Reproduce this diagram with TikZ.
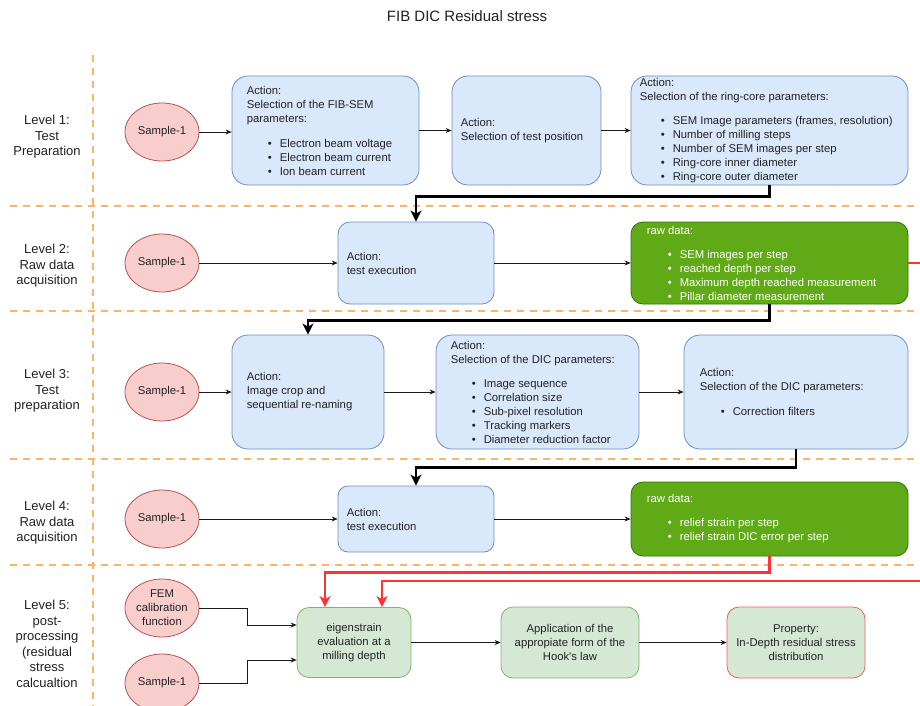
\documentclass[tikz,border=0pt]{standalone}
\usepackage{fontspec}
\setmainfont{Liberation Sans}
\usetikzlibrary{arrows.meta,shapes.geometric}

\definecolor{txtc}{HTML}{222222}
\definecolor{lanec}{HTML}{FFB366}
\definecolor{blueline}{HTML}{6C8EBF}
\definecolor{bluefill}{HTML}{DAE8FC}
\definecolor{pinkline}{HTML}{B85450}
\definecolor{pinkfill}{HTML}{F8CECC}
\definecolor{dgreen}{HTML}{60A917}
\definecolor{dgreenline}{HTML}{2D7600}
\definecolor{lgreen}{HTML}{D5E8D4}
\definecolor{lgreenline}{HTML}{82B366}
\definecolor{propline}{HTML}{F06060}
\definecolor{redc}{HTML}{FF3333}
\definecolor{linec}{HTML}{1A1A1A}

% one bullet line of a list inside a box
\newcommand\bitem[1]{\hspace*{21pt}\makebox[12pt][l]{\textbullet}#1}

\begin{document}
\begin{tikzpicture}[x=1pt,y=-1pt,
  body/.style={font=\fontsize{11.3}{14}\selectfont, text=txtc},
  lvl/.style={font=\fontsize{13}{15.5}\selectfont, text=txtc, align=center},
  lane/.style={draw=lanec, line width=2, dash pattern=on 7pt off 6pt},
  bluebox/.style={draw=blueline, fill=bluefill, line width=0.8},
  databox/.style={draw=dgreenline, fill=dgreen, line width=0.8},
  evalbox/.style={draw=lgreenline, fill=lgreen, line width=0.8, body, align=center},
  propbox/.style={draw=propline, fill=lgreen, line width=0.8, body, align=center},
  sample/.style={ellipse, draw=pinkline, fill=pinkfill, line width=0.8,
    minimum width=74, minimum height=58, inner sep=0, body, align=center},
  lbl/.style={body, align=left, inner sep=0, anchor=west},
  flow/.style={draw=linec, line width=0.8, -{Stealth[length=6pt,width=5pt]}},
  bigflow/.style={draw=black, line width=2.4, -{Stealth[length=11pt,width=11pt,inset=3pt]}},
  redflow/.style={draw=redc, line width=2.4, -{Stealth[length=11pt,width=11pt,inset=3pt]}},
]
\fill[white] (0,0) rectangle (920,706);
\useasboundingbox (0,0) rectangle (920,706);

% title
\node[font=\fontsize{15}{18}\selectfont, text=txtc] (title) at (467,16) {FIB DIC Residual stress};

% swimlane separators
\draw[lane] (93,55) -- (93,706);
\foreach \yy in {206,311,459,565} \draw[lane] (10,\yy) -- (920,\yy);

% level labels
\node[lvl] (lv1) at (47,137) {Level 1:\\Test\\Preparation};
\node[lvl] (lv2) at (47,266) {Level 2:\\Raw data\\acquisition};
\node[lvl] (lv3) at (47,391) {Level 3:\\Test\\preparation};
\node[lvl] (lv4) at (47,523) {Level 4:\\Raw data\\acquisition};
\node[lvl] (lv5) at (47,644) {Level 5:\\post-\\processing\\(residual\\stress\\calcualtion};

% level 1
\node[sample] (s1) at (162,132) {Sample-1};
\node[bluebox, rounded corners=16, minimum width=187, minimum height=109] (fib) at (325.5,130.5) {};
\node[lbl] (fibt) at ([xshift=15]fib.west) {Action:\\Selection of the FIB-SEM\\parameters:\\[11pt]\bitem{Electron beam voltage}\\\bitem{Electron beam current}\\\bitem{Ion beam current}};
\node[bluebox, rounded corners=16, minimum width=149, minimum height=109] (pos) at (526.5,130.5) {};
\node[lbl] (post) at ([xshift=9]pos.west) {Action:\\Selection of test position};
\node[bluebox, rounded corners=16, minimum width=277, minimum height=109] (ring) at (769.5,130.5) {};
\node[lbl] (ringt) at ([xshift=9]ring.west) {Action:\\Selection of the ring-core parameters:\\[10pt]\bitem{SEM Image parameters (frames, resolution)}\\\bitem{Number of milling steps}\\\bitem{Number of SEM images per step}\\\bitem{Ring-core inner diameter}\\\bitem{Ring-core outer diameter}};

% level 2
\node[sample] (s2) at (162,263) {Sample-1};
\node[bluebox, rounded corners=12, minimum width=156, minimum height=82] (exec1) at (416,263) {};
\node[lbl] (exec1t) at ([xshift=9]exec1.west) {Action:\\test execution};
\node[databox, rounded corners=12, minimum width=277, minimum height=82] (raw1) at (769.5,263) {};
\node[lbl, text=white] (raw1t) at ([xshift=16]raw1.west) {raw data:\\[10pt]\bitem{SEM images per step}\\\bitem{reached depth per step}\\\bitem{Maximum depth reached measurement}\\\bitem{Pillar diameter measurement}};

% level 3
\node[sample] (s3) at (162,392) {Sample-1};
\node[bluebox, rounded corners=16, minimum width=152, minimum height=114] (crop) at (308,392) {};
\node[lbl] (cropt) at ([xshift=15]crop.west) {Action:\\Image crop and\\sequential re-naming};
\node[bluebox, rounded corners=16, minimum width=203, minimum height=114] (dic) at (537.5,392) {};
\node[lbl] (dict) at ([xshift=15]dic.west) {Action:\\Selection of the DIC parameters:\\[10pt]\bitem{Image sequence}\\\bitem{Correlation size}\\\bitem{Sub-pixel resolution}\\\bitem{Tracking markers}\\\bitem{Diameter reduction factor}};
\node[bluebox, rounded corners=16, minimum width=224, minimum height=114] (filt) at (796,392) {};
\node[lbl] (filtt) at ([xshift=16]filt.west) {Action:\\Selection of the DIC parameters:\\[11pt]\bitem{Correction filters}};

% level 4
\node[sample] (s4) at (162,519) {Sample-1};
\node[bluebox, rounded corners=10, minimum width=156, minimum height=66] (exec2) at (416,519) {};
\node[lbl] (exec2t) at ([xshift=9]exec2.west) {Action:\\test execution};
\node[databox, rounded corners=12, minimum width=277, minimum height=74] (raw2) at (769.5,519) {};
\node[lbl, text=white] (raw2t) at ([xshift=16]raw2.west) {raw data:\\[10pt]\bitem{relief strain per step}\\\bitem{relief strain DIC error per step}};

% level 5
\node[sample] (fem) at (162,608) {FEM\\calibration\\function};
\node[sample] (s5) at (162,683) {Sample-1};
\node[evalbox, rounded corners=12, minimum width=114, minimum height=70] (eig) at (354,642.5) {eigenstrain\\evaluation at a\\milling depth};
\node[evalbox, rounded corners=12, minimum width=138, minimum height=71] (hook) at (570,642.5) {Application of the\\appropiate form of the\\Hook\textquotesingle s law};
\node[propbox, rounded corners=12, minimum width=138, minimum height=71] (prop) at (796,642.5) {Property:\\In-Depth residual stress\\distribution};

% connectors within the levels
\draw[flow] (s1.east) -- (s1.east -| fib.west);
\draw[flow] (fib.east) -- (pos.west);
\draw[flow] (pos.east) -- (ring.west);
\draw[flow] (s2) -- (exec1);
\draw[flow] (exec1) -- (raw1);
\draw[flow] (s3) -- (crop);
\draw[flow] (crop) -- (dic);
\draw[flow] (dic) -- (filt);
\draw[flow] (s4) -- (exec2);
\draw[flow] (exec2) -- (raw2);
\draw[flow] (fem.east) -- ++(48,0) |- ([yshift=17.5]eig.west);
\draw[flow] (s5.east) -- ++(48,0) |- ([yshift=-17.5]eig.west);
\draw[flow] (eig) -- (hook);
\draw[flow] (hook) -- (prop);

% connectors between the levels
\draw[bigflow] (ring.south) -- ++(0,11) -| (exec1.north);
\draw[bigflow] (raw1.south) -- ++(0,16) -| (crop.north);
\draw[bigflow] (filt.south) -- ++(0,18) -| (exec2.north);
\draw[redflow] (raw2.south) -- ++(0,16) -| ([xshift=-29]eig.north);
\coordinate (wrap) at (935,581);
\draw[redflow] (raw1.east) -| (wrap) -| ([xshift=28]eig.north);
\end{tikzpicture}
\end{document}
